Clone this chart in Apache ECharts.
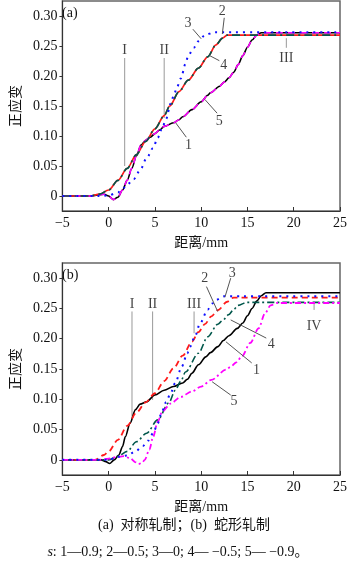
<!DOCTYPE html>
<html>
<head>
<meta charset="utf-8">
<script src="https://cdn.jsdelivr.net/npm/echarts@6/dist/echarts.min.js"></script>
<style>
html,body{margin:0;padding:0;background:#fff;}
#c{width:350px;height:563px;}
</style>
</head>
<body>
<div id="c"></div>
<script>
// ---- data ----
const xTicks = [-5, 0, 5, 10, 15, 20, 25];
const yTicks = [0, 0.05, 0.10, 0.15, 0.20, 0.25, 0.30];

// (a) symmetric rolling
const a1 = [[-5,0],[-2,0],[-1,0.002],[-0.5,0.003],[0,0],[0.5,-0.006],[1,-0.002],[1.5,0.01],[2,0.026],[2.5,0.046],[3,0.067],[3.5,0.085],[4,0.093],[4.5,0.098],[5,0.104],[5.5,0.11],[6,0.116],[7,0.122],[7.6,0.127],[8,0.132],[9,0.144],[10,0.157],[10.7,0.168],[11,0.172],[12,0.183],[12.5,0.19],[13,0.197],[13.5,0.206],[14,0.219],[14.5,0.234],[15,0.248],[15.5,0.26],[16,0.268],[16.5,0.272],[17,0.272],[25,0.272]];
const a2 = [[-5,0],[-2,0],[-1,0.003],[0,0.01],[1,0.026],[2,0.046],[3,0.069],[4,0.091],[5,0.112],[6,0.134],[6.6,0.15],[7.6,0.174],[8.6,0.193],[9.7,0.213],[10.7,0.232],[11.6,0.252],[12.3,0.263],[12.8,0.268],[25,0.268]];
const a3 = [[-5,0],[-1,0],[0,0.001],[1,0.006],[1.5,0.012],[2,0.019],[2.7,0.028],[3.4,0.043],[4.1,0.063],[4.8,0.08],[5.3,0.097],[5.8,0.114],[6.2,0.128],[6.7,0.154],[7.1,0.171],[7.4,0.182],[7.8,0.196],[8.3,0.22],[8.6,0.234],[9.2,0.247],[9.7,0.258],[10.4,0.268],[11.4,0.273],[25,0.273]];
const a4 = [[-5,0],[-2,0],[-1,0.003],[0,0.01],[1,0.026],[2,0.046],[3,0.069],[4,0.091],[5,0.112],[6,0.134],[6.6,0.15],[7.6,0.174],[8.6,0.193],[9.7,0.213],[10.7,0.232],[11.6,0.252],[12.3,0.263],[12.8,0.268],[25,0.268]];
const a5 = [[-5,0],[-2,0],[-1,0.002],[-0.5,0.003],[0,0],[0.5,-0.006],[1,-0.002],[1.5,0.01],[2,0.026],[2.5,0.046],[3,0.067],[3.5,0.085],[4,0.093],[4.5,0.098],[5,0.104],[5.5,0.11],[6,0.116],[7,0.122],[7.6,0.127],[8,0.132],[9,0.144],[10,0.157],[10.7,0.168],[11,0.172],[12,0.183],[12.5,0.19],[13,0.197],[13.5,0.206],[14,0.219],[14.5,0.234],[15,0.248],[15.5,0.26],[16,0.268],[16.5,0.272],[17,0.272],[25,0.272]];

// (b) snake rolling
const b1 = [[-5,0],[-1.5,0],[-0.8,0],[-0.3,-0.003],[0.1,-0.006],[0.6,0],[1.1,0.008],[1.5,0.022],[1.8,0.038],[2.3,0.06],[2.9,0.083],[3.4,0.092],[4.1,0.096],[5,0.107],[6,0.115],[7,0.121],[8,0.127],[8.5,0.133],[9,0.143],[9.7,0.157],[10.5,0.17],[11,0.177],[11.8,0.187],[12.4,0.197],[13,0.205],[13.9,0.217],[14.5,0.226],[15,0.238],[15.5,0.25],[16,0.262],[16.5,0.271],[17,0.276],[17.5,0.276],[25,0.276]];
const b2 = [[-5,0],[-1.5,0],[-0.5,0.008],[0,0.014],[1,0.033],[2,0.056],[3,0.078],[4,0.095],[5,0.11],[6,0.13],[7,0.151],[8,0.172],[9,0.195],[9.7,0.211],[10.4,0.224],[11.1,0.237],[11.8,0.247],[12.8,0.261],[13.5,0.268],[25,0.268]];
const b3 = [[-5,0],[0,0],[1,0.005],[2,0.007],[2.9,0.014],[3.7,0.023],[4.3,0.032],[4.8,0.044],[5.3,0.06],[5.7,0.077],[6.2,0.095],[6.7,0.11],[7.2,0.127],[7.9,0.154],[8.5,0.176],[8.8,0.187],[9.3,0.203],[9.9,0.226],[10.7,0.248],[11.2,0.258],[11.6,0.264],[12.5,0.27],[25,0.27]];
const b4 = [[-5,0],[0,0],[1,0.006],[2,0.014],[3,0.03],[4.1,0.044],[5.3,0.066],[6.5,0.094],[7.2,0.115],[7.8,0.13],[8.3,0.145],[9.7,0.176],[10.7,0.203],[11.8,0.224],[12.3,0.23],[13,0.24],[13.5,0.248],[14,0.255],[14.9,0.26],[25,0.26]];
const b5 = [[-5,0],[-1,0],[0,0.002],[1,0.005],[1.6,0.006],[2.3,0.003],[2.9,-0.004],[3.2,-0.007],[3.6,-0.005],[3.9,0],[4.4,0.017],[4.8,0.038],[5.3,0.063],[5.8,0.08],[6.7,0.093],[7.8,0.104],[9,0.113],[10,0.121],[11.1,0.132],[12.7,0.149],[13.2,0.154],[13.8,0.161],[14.4,0.171],[15.3,0.193],[16.2,0.217],[16.9,0.242],[17.5,0.255],[18.2,0.259],[25,0.259]];

// annotations (data coordinates): vertical region markers
const aRegions = [[1.73,0.23,0.05,'I',0.243],[6.0,0.23,0.13,'II',0.243],[19.2,0.263,0.247,'III',0.23]];
const bRegions = [[2.52,0.245,0.0715,'I',0.256],[4.75,0.245,0.099,'II',0.256],[9.23,0.245,0.209,'III',0.256],[22.2,0.261,0.2475,'IV',0.22]];
// curve leaders: [label, labelX, labelY, fromX, fromY, toX, toY]
const aLeaders = [['3',8.57,0.288,9.1,0.278,10.0,0.262],['2',12.28,0.307,12.49,0.297,12.28,0.27],['4',12.45,0.218,11.96,0.2255,10.91,0.234],['5',11.96,0.124,11.72,0.138,10.39,0.161],['1',8.64,0.085,8.39,0.098,7.24,0.122]];
const bLeaders = [['2',10.39,0.30,10.57,0.286,11.78,0.245],['3',13.36,0.308,13.19,0.30,12.56,0.2685],['4',17.56,0.19,17.03,0.201,13.19,0.231],['1',15.98,0.1485,15.46,0.16,12.67,0.195],['5',13.54,0.096,13.19,0.107,11.18,0.129]];

// ---- chart ----
const serif = 'Liberation Serif, Noto Sans CJK SC, serif';
const chart = echarts.init(document.getElementById('c'), null, {renderer:'canvas'});

function xAx(gi){
  return {
    type:'value', gridIndex:gi, min:-5, max:25, interval:5,
    axisLine:{show:true, onZero:false, lineStyle:{color:'#333', width:1}},
    axisTick:{show:true, inside:true, length:4, lineStyle:{color:'#333'}},
    axisLabel:{fontFamily:serif, fontSize:14, color:'#111', margin:5,
      formatter:v => v < 0 ? '\u2212' + Math.abs(v) : String(v)},
    splitLine:{show:false},
    name:'距离/mm', nameLocation:'middle', nameGap:25,
    nameTextStyle:{fontFamily:serif, fontSize:14, color:'#111'}
  };
}
function yAx(gi){
  return {
    type:'value', gridIndex:gi, min:-0.025, max:0.325,
    axisLine:{show:true, onZero:false, lineStyle:{color:'#333', width:1}},
    axisTick:{show:true, inside:false, length:3, customValues:yTicks, lineStyle:{color:'#333'}},
    axisLabel:{fontFamily:serif, fontSize:14, color:'#111', margin:5, customValues:yTicks,
      formatter:v => Math.abs(v) < 1e-9 ? '0' : v.toFixed(2)},
    splitLine:{show:false},
    name:'正应变', nameLocation:'middle', nameRotate:90, nameGap:39,
    nameTextStyle:{fontFamily:'Noto Sans CJK SC', fontSize:14, color:'#111'}
  };
}
function curve(data, gi, color, width, dash, z){
  return {
    type:'line', xAxisIndex:gi, yAxisIndex:gi, data:data, showSymbol:false, symbol:'none',
    smooth:0.3, smoothMonotone:'x', z:z||2, silent:true,
    lineStyle:{color:color, width:width, type:dash, cap:'butt'}
  };
}
const series = [];
[[a1,a2,a3,a4,a5,0],[b1,b2,b3,b4,b5,1]].forEach(arr => {
  const gi = arr[5];
  if (gi === 0) {
    series.push(curve(arr[0], gi, '#000000', 1.6, 'solid', 2));
    series.push(curve(arr[4], gi, '#ff00ff', 1.6, [7,5], 3));
    series.push(curve(arr[1], gi, '#ff1a1a', 1.7, 'solid', 2));
    series.push(curve(arr[3], gi, '#00574b', 1.7, [8,4,2,4], 3));
    series.push(curve(arr[2], gi, '#1010ff', 2, [2,5], 4));
  } else {
    series.push(curve(arr[0], gi, '#000000', 1.6, 'solid', 2));
    series.push(curve(arr[1], gi, '#ff1a1a', 1.8, [6,4], 3));
    series.push(curve(arr[2], gi, '#1010ff', 2, [2,5], 4));
    series.push(curve(arr[3], gi, '#00574b', 1.6, [7,3,2,3], 3));
    series.push(curve(arr[4], gi, '#ff00ff', 1.8, [6,3,2,3], 3));
  }
});
function annot(regions, leaders, gi){
  const labels = [];
  regions.forEach(r => {
    series.push({type:'line', xAxisIndex:gi, yAxisIndex:gi, data:[[r[0],r[1]],[r[0],r[2]]],
      symbol:'none', silent:true, z:1, lineStyle:{color:'#999', width:1}});
    labels.push({value:[r[0], r[4]], name:r[3]});
  });
  leaders.forEach(l => {
    series.push({type:'line', xAxisIndex:gi, yAxisIndex:gi, data:[[l[3],l[4]],[l[5],l[6]]],
      symbol:'none', silent:true, z:5, lineStyle:{color:'#555', width:1}});
    labels.push({value:[l[1], l[2]], name:l[0]});
  });
  series.push({type:'scatter', xAxisIndex:gi, yAxisIndex:gi, data:labels, symbolSize:1, silent:true, z:6,
    itemStyle:{color:'rgba(0,0,0,0)'},
    label:{show:true, position:'inside', formatter:'{b}', fontFamily:serif, fontSize:14, color:'#111'}});
}
annot(aRegions, aLeaders, 0);
annot(bRegions, bLeaders, 1);

chart.setOption({
  animation:false,
  backgroundColor:'#fff',
  grid:[
    {left:54, right:10, top:1, height:210, show:true, borderColor:'#666', borderWidth:1.5, backgroundColor:'transparent'},
    {left:54, right:10, top:263, height:212, show:true, borderColor:'#666', borderWidth:1.5, backgroundColor:'transparent'}
  ],
  xAxis:[xAx(0), xAx(1)],
  yAxis:[yAx(0), yAx(1)],
  series:series,
  graphic:[
    {type:'text', left:62, top:6, style:{text:'(a)', font:'14px Liberation Serif', fill:'#111'}},
    {type:'text', left:62, top:268, style:{text:'(b)', font:'14px Liberation Serif', fill:'#111'}},
    {type:'text', x:184, y:525, style:{text:'(a)  对称轧制；(b)  蛇形轧制', font:'14px Liberation Serif, Noto Sans CJK SC', fill:'#111', textAlign:'center', textVerticalAlign:'middle'}},
    {type:'text', x:178, y:552, style:{text:'{i|s}: 1—0.9; 2—0.5; 3—0; 4— \u22120.5; 5— \u22120.9。',
      font:'14px Liberation Serif, Noto Sans CJK SC', fill:'#111', textAlign:'center', textVerticalAlign:'middle',
      rich:{i:{fontStyle:'italic', fontFamily:'Liberation Serif', fontSize:14, fill:'#111'}}}}
  ]
});
</script>
</body>
</html>
